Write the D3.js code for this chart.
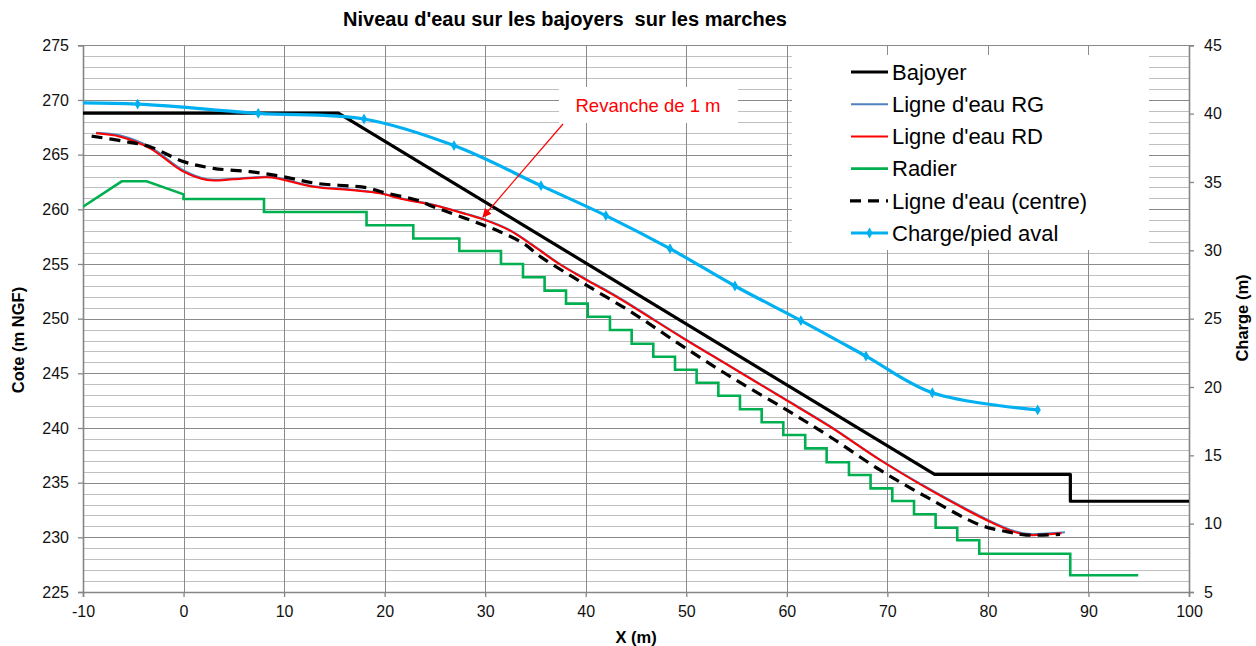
<!DOCTYPE html>
<html><head><meta charset="utf-8">
<script src="https://cdn.jsdelivr.net/npm/d3@7"></script>
<style>
body{margin:0;background:#fff;}
svg{display:block;font-family:"Liberation Sans",Arial,sans-serif;}
</style>
</head><body>
<svg id="chart" width="1256" height="646"></svg>
<script>
// ---------- data ----------
const title = "Niveau d'eau sur les bajoyers  sur les marches";
const xTicks = [-10, 0, 10, 20, 30, 40, 50, 60, 70, 80, 90, 100];
const yTicks = [225, 230, 235, 240, 245, 250, 255, 260, 265, 270, 275];
const y2Ticks = [5, 10, 15, 20, 25, 30, 35, 40, 45];

const bajoyerX = [-10, 15.4, 74.7, 88.2, 88.2, 100];
const bajoyerY = [268.8, 268.8, 235.75, 235.75, 233.3, 233.3];

const rdX = [-8.7, -6.3, -3.34, 0, 2.33, 4.97, 8.28, 9.26, 12.9, 16.55, 19.53, 21.73, 24.84, 28.16, 29.81, 32.47, 34.79, 37.44, 40.1, 43.07, 49.7, 54.67, 59.65, 64.29, 69.26, 74.24, 77.89, 80.54, 82.53, 84.18, 85.84, 87.33];
const rdY = [266.95, 266.64, 265.58, 263.44, 262.68, 262.74, 262.93, 262.84, 262.07, 261.77, 261.46, 260.94, 260.39, 259.54, 259.08, 258.05, 256.65, 254.95, 253.53, 252.0, 248.2, 245.46, 242.7, 240.12, 237.07, 234.33, 232.5, 231.28, 230.52, 230.21, 230.27, 230.37];

const rgX = [-8.7, -6.3, -3.34, 0, 2.33, 4.97, 8.28, 9.26, 12.9, 16.55, 19.53, 21.73, 24.84, 28.16, 29.81, 32.47, 34.79, 37.44, 40.1, 43.07, 49.7, 54.67, 59.65, 64.29, 69.26, 74.24, 77.89, 80.54, 82.53, 84.18, 85.84, 87.66];
const rgY = [267.0, 266.75, 265.7, 263.55, 262.75, 262.8, 262.98, 262.9, 262.12, 261.82, 261.5, 260.98, 260.43, 259.58, 259.12, 258.1, 256.7, 255.0, 253.58, 252.05, 248.25, 245.5, 242.75, 240.17, 237.12, 234.4, 232.58, 231.35, 230.6, 230.3, 230.35, 230.46];

const radierHeadX = [-10, -6.15, -3.67, 0];
const radierHeadY = [260.24, 262.56, 262.56, 261.37];
const radierStepX = [0, 8.0, 18.2, 22.85, 27.43, 31.57, 33.76, 35.91, 38.04, 40.2, 42.41, 44.57, 46.72, 48.88, 51.03, 53.19, 55.34, 57.5, 59.65, 61.83, 63.96, 66.18, 68.33, 70.49, 72.65, 74.8, 76.95, 79.14, 88.19];
const radierStepY = [260.94, 259.75, 258.54, 257.33, 256.19, 255.0, 253.78, 252.56, 251.37, 250.18, 248.96, 247.71, 246.52, 245.33, 244.14, 242.95, 241.71, 240.52, 239.36, 238.14, 236.86, 235.70, 234.48, 233.32, 232.11, 230.88, 229.73, 228.5, 226.53];
const radierEndX = 94.95;

const centreX = [-9.14, -5.65, -3.34, 0, 2.96, 6.61, 9.92, 13.24, 18.2, 19.86, 23.17, 24.84, 29.81, 31.47, 33.79, 35.6, 39.76, 44.73, 49.7, 54.67, 59.98, 64.29, 69.26, 74.24, 79.21, 81.86, 83.85, 87.17];
const centreY = [266.7, 266.18, 265.73, 264.36, 263.75, 263.44, 262.98, 262.37, 261.98, 261.55, 260.85, 260.24, 258.56, 257.95, 256.89, 255.6, 253.23, 250.49, 247.44, 244.54, 241.65, 239.2, 236.16, 233.51, 231.13, 230.52, 230.21, 230.27];

const chargeX = [-16.5, -4.57, 7.43, 17.95, 26.9, 35.55, 42.0, 48.38, 54.84, 61.4, 67.87, 74.47, 84.95];
const chargeY = [40.78, 40.70, 40.02, 39.61, 37.66, 34.73, 32.54, 30.12, 27.39, 24.86, 22.26, 19.58, 18.32];

const legendNames = ["Bajoyer", "Ligne d'eau RG", "Ligne d'eau RD", "Radier", "Ligne d'eau (centre)", "Charge/pied aval"];
const annotationText = "Revanche de 1 m";

// ---------- layout ----------
const svg = d3.select("#chart");
const L = 83, R = 1189, T = 45.3, B = 592;
const x = d3.scaleLinear().domain([-10, 100]).range([L, R]);
const y = d3.scaleLinear().domain([225, 275]).range([B, T]);
const y2 = d3.scaleLinear().domain([5, 45]).range([B, T]);

const zip = (xs, ys) => xs.map((v, i) => [v, ys[i]]);

svg.append("defs").append("clipPath").attr("id", "plotclip")
  .append("rect").attr("x", L).attr("y", T).attr("width", R - L).attr("height", B - T);

// gridlines
const grid = svg.append("g");
const minor = d3.range(226, 275).filter(v => v % 5 !== 0);
grid.selectAll("line.minor").data(minor).join("line")
  .attr("x1", L).attr("x2", R)
  .attr("y1", d => Math.round(y(d)) + 0.5).attr("y2", d => Math.round(y(d)) + 0.5)
  .attr("stroke", "#c0c0c0").attr("stroke-width", 1);
grid.selectAll("line.major").data(yTicks).join("line")
  .attr("x1", L).attr("x2", R)
  .attr("y1", d => Math.round(y(d)) + 0.5).attr("y2", d => Math.round(y(d)) + 0.5)
  .attr("stroke", "#8a8a8a").attr("stroke-width", 1);
grid.selectAll("line.vert").data(xTicks).join("line")
  .attr("y1", T).attr("y2", B)
  .attr("x1", d => Math.round(x(d)) + 0.5).attr("x2", d => Math.round(x(d)) + 0.5)
  .attr("stroke", "#8a8a8a").attr("stroke-width", 1);

// axes
const fontSize = "16px";
const fmt = d => String(d);
const axB = svg.append("g").attr("transform", `translate(0,${B})`)
  .call(d3.axisBottom(x).tickValues(xTicks).tickSize(5).tickPadding(9).tickFormat(fmt));
const axL = svg.append("g").attr("transform", `translate(${L},0)`)
  .call(d3.axisLeft(y).tickValues(yTicks).tickSize(5).tickPadding(9).tickFormat(fmt));
const axR = svg.append("g").attr("transform", `translate(${R},0)`)
  .call(d3.axisRight(y2).tickValues(y2Ticks).tickSize(5).tickPadding(10).tickFormat(fmt));
[axB, axL, axR].forEach(a => {
  a.select(".domain").attr("stroke", "#868686").attr("stroke-width", 1.6);
  a.selectAll(".tick line").attr("stroke", "#868686").attr("stroke-width", 1.3);
  a.selectAll(".tick text").attr("font-size", fontSize).attr("fill", "#111")
    .attr("font-family", "'Liberation Sans', Arial, sans-serif");
});

// series
const plot = svg.append("g").attr("clip-path", "url(#plotclip)");
const line = d3.line().x(d => x(d[0])).y(d => y(d[1]));
const smooth = d3.line().x(d => x(d[0])).y(d => y(d[1])).curve(d3.curveCatmullRom.alpha(0.5));
const smooth2 = d3.line().x(d => x(d[0])).y(d => y2(d[1])).curve(d3.curveCatmullRom.alpha(0.5));

plot.append("path").datum(zip(bajoyerX, bajoyerY)).attr("d", line)
  .attr("fill", "none").attr("stroke", "#000").attr("stroke-width", 3.2).attr("stroke-linejoin", "round");

plot.append("path").datum(zip(rgX, rgY)).attr("d", smooth)
  .attr("fill", "none").attr("stroke", "#4F81BD").attr("stroke-width", 2);
plot.append("path").datum(zip(rdX, rdY)).attr("d", smooth)
  .attr("fill", "none").attr("stroke", "#FF0000").attr("stroke-width", 2);

// radier staircase points built from step arrays
const radierPts = zip(radierHeadX, radierHeadY);
let prev = radierHeadY[radierHeadY.length - 1];
radierStepX.forEach((sx, i) => {
  radierPts.push([sx, prev]);
  radierPts.push([sx, radierStepY[i]]);
  prev = radierStepY[i];
});
radierPts.push([radierEndX, prev]);
plot.append("path").datum(radierPts).attr("d", line)
  .attr("fill", "none").attr("stroke", "#00B050").attr("stroke-width", 2.6);

plot.append("path").datum(zip(centreX, centreY)).attr("d", smooth)
  .attr("fill", "none").attr("stroke", "#000").attr("stroke-width", 3.2)
  .attr("stroke-dasharray", "11,7");

const chargeData = zip(chargeX, chargeY);
plot.append("path").datum(chargeData).attr("d", smooth2)
  .attr("fill", "none").attr("stroke", "#00B0F0").attr("stroke-width", 3.2);
const diamond = d3.symbol().type(d3.symbolDiamond).size(34);
plot.selectAll("path.mk").data(chargeData).join("path")
  .attr("transform", d => `translate(${x(d[0])},${y2(d[1])})`)
  .attr("d", diamond).attr("fill", "#00B0F0");

// legend
const lg = svg.append("g");
lg.append("rect").attr("x", 792).attr("y", 55).attr("width", 357).attr("height", 195).attr("fill", "#fff");
const lgStyles = [
  {c: "#000", w: 3.2, dash: null},
  {c: "#4F81BD", w: 2, dash: null},
  {c: "#FF0000", w: 2, dash: null},
  {c: "#00B050", w: 2.6, dash: null},
  {c: "#000", w: 3.2, dash: "11,7"},
  {c: "#00B0F0", w: 3.2, dash: null}
];
legendNames.forEach((name, i) => {
  const cy = 72 + i * 32.2;
  const s = lgStyles[i];
  const ln = lg.append("line").attr("x1", 851).attr("x2", 888).attr("y1", cy).attr("y2", cy)
    .attr("stroke", s.c).attr("stroke-width", s.w);
  if (s.dash) ln.attr("stroke-dasharray", s.dash).attr("x1", 850);
  if (i === 5) lg.append("path").attr("transform", `translate(869.5,${cy})`).attr("d", diamond).attr("fill", s.c);
  lg.append("text").attr("x", 892).attr("y", cy).attr("dy", "0.35em")
    .attr("font-size", "22px").attr("fill", "#000").text(name);
});

// annotation
svg.append("rect").attr("x", 559).attr("y", 87).attr("width", 179).attr("height", 36).attr("fill", "#fff");
svg.append("text").attr("x", 648).attr("y", 112).attr("text-anchor", "middle")
  .attr("font-size", "18.5px").attr("fill", "#FF0000").text(annotationText);
svg.append("defs").append("marker").attr("id", "arr").attr("viewBox", "0 0 10 10")
  .attr("refX", 9).attr("refY", 5).attr("markerWidth", 9).attr("markerHeight", 9)
  .attr("markerUnits", "userSpaceOnUse").attr("orient", "auto")
  .append("path").attr("d", "M0,0 L10,5 L0,10 z").attr("fill", "#FF0000");
svg.append("line").attr("x1", 563).attr("y1", 124).attr("x2", 483).attr("y2", 217)
  .attr("stroke", "#FF0000").attr("stroke-width", 1.2).attr("marker-end", "url(#arr)");

// titles
svg.append("text").attr("x", 565).attr("y", 26).attr("text-anchor", "middle")
  .attr("font-size", "20px").attr("font-weight", "bold")
  .style("white-space", "pre").attr("xml:space", "preserve").text(title);
svg.append("text").attr("x", 636).attr("y", 643).attr("text-anchor", "middle")
  .attr("font-size", "16.5px").attr("font-weight", "bold").text("X (m)");
svg.append("text").attr("transform", "translate(23.5,340) rotate(-90)").attr("text-anchor", "middle")
  .attr("font-size", "16.5px").attr("font-weight", "bold").text("Cote (m NGF)");
svg.append("text").attr("transform", "translate(1248,318) rotate(-90)").attr("text-anchor", "middle")
  .attr("font-size", "16.5px").attr("font-weight", "bold").text("Charge (m)");
</script>
</body></html>
